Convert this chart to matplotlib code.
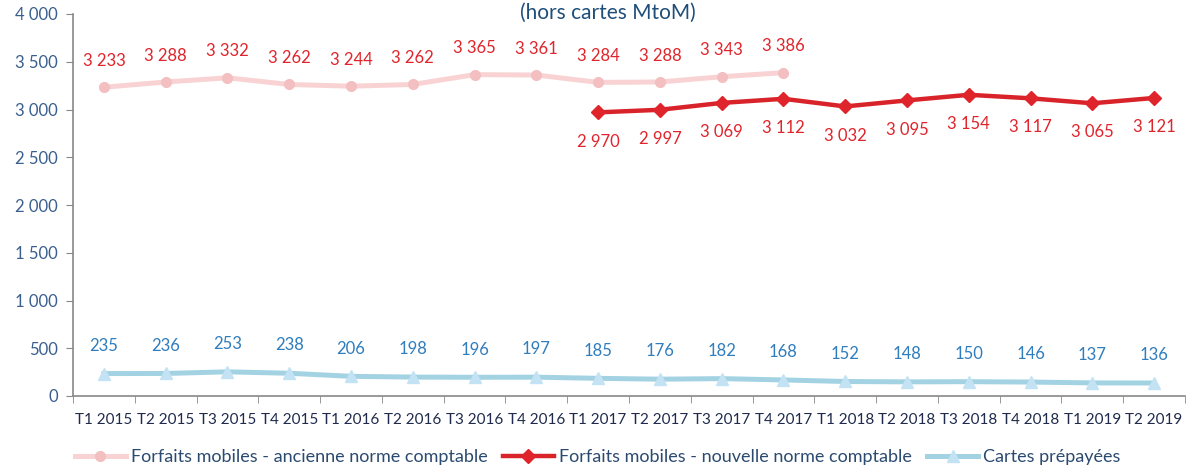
import matplotlib.pyplot as plt

quarters = ["T1 2015", "T2 2015", "T3 2015", "T4 2015", "T1 2016", "T2 2016",
            "T3 2016", "T4 2016", "T1 2017", "T2 2017", "T3 2017", "T4 2017",
            "T1 2018", "T2 2018", "T3 2018", "T4 2018", "T1 2019", "T2 2019"]
ancienne = [3233, 3288, 3332, 3262, 3244, 3262, 3365, 3361, 3284, 3288, 3343, 3386]
nouvelle = [2970, 2997, 3069, 3112, 3032, 3095, 3154, 3117, 3065, 3121]
prepayees = [235, 236, 253, 238, 206, 198, 196, 197, 185, 176, 182, 168,
             152, 148, 150, 146, 137, 136]


def fr(v):
    return f"{v:,}".replace(",", " ")


plt.rcParams['font.family'] = ['Lato', 'DejaVu Sans']

fig = plt.figure(figsize=(11.91, 4.68), dpi=100)
ax = fig.add_axes([73 / 1191, 72 / 468, 1112 / 1191, 382 / 468])

x_all = list(range(len(quarters)))
x_old = x_all[:len(ancienne)]
x_new = x_all[8:8 + len(nouvelle)]

ax.plot(x_old, ancienne, color="#F9D3D4", lw=3.6, marker="o", ms=7,
        mfc="#F4BFC1", mec="#F4BFC1", label="Forfaits mobiles - ancienne norme comptable", zorder=2)
ax.plot(x_new, nouvelle, color="#D9232A", lw=3.2, marker="D", ms=7,
        mfc="#E0242B", mec="#E0242B", label="Forfaits mobiles - nouvelle norme comptable", zorder=3)
ax.plot(x_all, prepayees, color="#A3D3E3", lw=3.6, marker="^", ms=8,
        mfc="#C3E3F5", mec="#C3E3F5", label="Cartes prépayées", zorder=2)

for x, v in zip(x_old, ancienne):
    ax.annotate(fr(v), (x, v), xytext=(0, 19), textcoords="offset points",
                ha="center", va="center", fontsize=12, color="#E0242B")
for x, v in zip(x_new, nouvelle):
    ax.annotate(fr(v), (x, v), xytext=(0, -21), textcoords="offset points",
                ha="center", va="center", fontsize=12, color="#E0242B")
for x, v in zip(x_all, prepayees):
    ax.annotate(fr(v), (x, v), xytext=(0, 20), textcoords="offset points",
                ha="center", va="center", fontsize=12, color="#2F7DBD")

ax.set_xlim(-0.5, len(quarters) - 0.5)
ax.set_ylim(0, 4000)
ax.set_yticks(range(0, 4001, 500))
ax.set_yticklabels([fr(v) for v in range(0, 4001, 500)], fontsize=12, color="#3A5F8F")
ax.set_xticks(x_all)
ax.set_xticklabels(quarters, fontsize=11, color="#1F2A4D")
ax.set_xticks([i - 0.5 for i in range(len(quarters) + 1)], minor=True)
ax.tick_params(axis="x", which="major", length=0, pad=12)
ax.tick_params(axis="x", which="minor", length=5, color="#888888")
ax.tick_params(axis="y", length=5, color="#888888", pad=6)

for s in ["top", "right"]:
    ax.spines[s].set_visible(False)
for s in ["left", "bottom"]:
    ax.spines[s].set_color("#888888")
    ax.spines[s].set_linewidth(1.2)

fig.text(0.51, 0.972, "(hors cartes MtoM)", ha="center", va="center",
         fontsize=15, color="#1F4E79")

ax.legend(loc="center", bbox_to_anchor=(0.472, -0.16), ncol=3, frameon=False,
          fontsize=13, labelcolor="#2B4A70", handlelength=2.8, columnspacing=0.85,
          handletextpad=0.3)

fig.savefig("out.png", dpi=100)
